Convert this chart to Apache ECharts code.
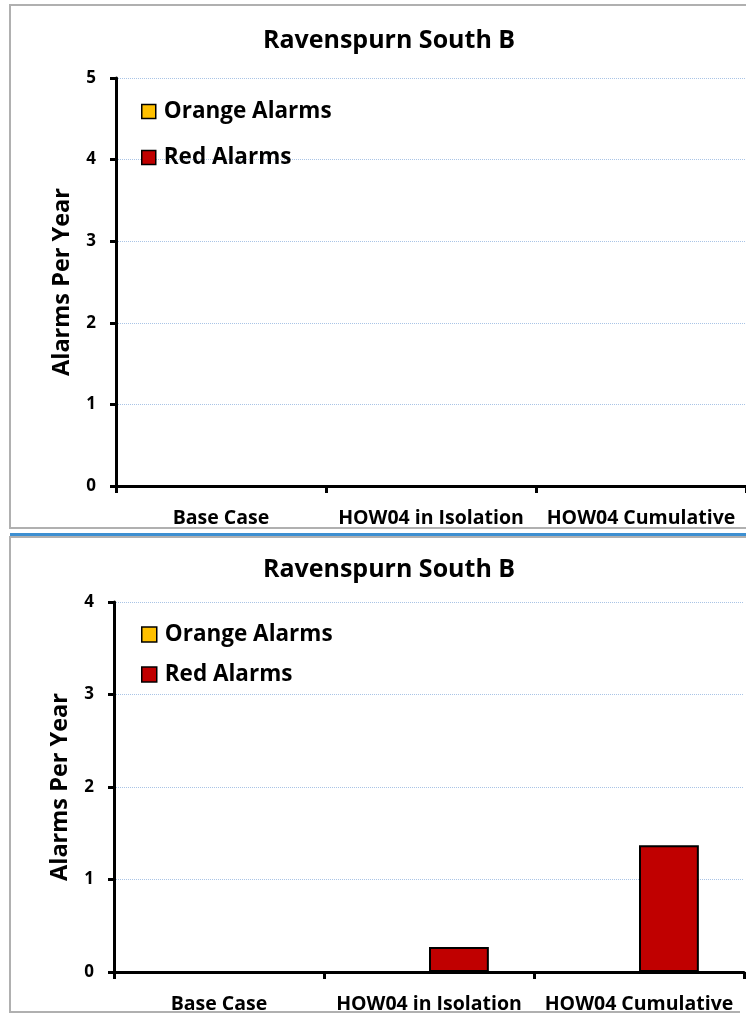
<!DOCTYPE html>
<html><head><meta charset="utf-8">
<script src="https://cdn.jsdelivr.net/npm/echarts@6/dist/echarts.min.js"></script>
<style>html,body{margin:0;padding:0;background:#fff}#c{width:746px;height:1014px}</style>
</head><body><div id="c"></div>
<script>
const categories = ['Base Case', 'HOW04 in Isolation', 'HOW04 Cumulative'];
const titleText = 'Ravenspurn South B';
const seriesNames = ['Orange Alarms', 'Red Alarms'];
const topOrange = [0, 0, 0];
const topRed = [0, 0, 0];
const bottomOrange = [0, 0, 0];
const bottomRed = [0, 0.27, 1.37];
const topMax = 5;
const bottomMax = 4;

const FONT = '"Open Sans"';
const colors = ['#FFC000', '#C00000'];

function xAxis(gi) {
  return {
    type: 'category', gridIndex: gi, data: categories,
    axisLine: {lineStyle: {color: '#000', width: 3}},
    axisTick: {show: true, length: 7, lineStyle: {color: '#000', width: 3}},
    axisLabel: {margin: 22, fontFamily: FONT, fontWeight: 'bold', fontSize: 19.5, color: '#000', interval: 0},
    splitLine: {show: false}
  };
}
function yAxis(gi, max) {
  return {
    type: 'value', gridIndex: gi, min: 0, max: max, interval: 1,
    name: 'Alarms Per Year', nameLocation: 'middle', nameGap: 42, nameRotate: 90,
    nameTextStyle: {fontFamily: FONT, fontWeight: 'bold', fontSize: 23.5, color: '#000'},
    axisLine: {show: true, lineStyle: {color: '#000', width: 3}},
    axisTick: {show: true, length: 6, lineStyle: {color: '#000', width: 3}},
    axisLabel: {margin: 20, fontFamily: FONT, fontWeight: 'bold', fontSize: 17, color: '#000'},
    splitLine: {show: true, lineStyle: {color: '#a9c4e6', width: 1, type: 'dotted'}}
  };
}
function bar(name, data, gi, ci) {
  return {
    name: name, type: 'bar', xAxisIndex: gi, yAxisIndex: gi, data: data,
    barGap: '0%', barCategoryGap: '43%',
    itemStyle: {color: colors[ci], borderColor: '#000', borderWidth: 2}
  };
}
function legend(top, gap, sz) {
  return {
    orient: 'vertical', left: 136, top: top, itemGap: gap, itemWidth: sz, itemHeight: sz,
    icon: 'rect', data: seriesNames, selectedMode: false,
    itemStyle: {borderColor: '#000', borderWidth: 1.5},
    textStyle: {fontFamily: FONT, fontWeight: 'bold', fontSize: 22.5, color: '#000', padding: [0, 0, 0, 3]}
  };
}

const chart = echarts.init(document.getElementById('c'), null, {renderer: 'canvas'});
chart.setOption({
  animation: false,
  backgroundColor: '#fff',
  title: [
    {text: titleText, left: 384, top: 23, textAlign: 'center',
     textStyle: {fontFamily: FONT, fontWeight: 'bold', fontSize: 25, color: '#000'}},
    {text: titleText, left: 384, top: 552, textAlign: 'center',
     textStyle: {fontFamily: FONT, fontWeight: 'bold', fontSize: 25, color: '#000'}}
  ],
  legend: [legend(95, 23, 14), legend(618, 17, 15)],
  grid: [
    {left: 116, top: 78, width: 630, height: 408},
    {left: 114, top: 602, width: 630, height: 371}
  ],
  xAxis: [xAxis(0), xAxis(1)],
  yAxis: [yAxis(0, topMax), yAxis(1, bottomMax)],
  series: [
    bar(seriesNames[0], topOrange, 0, 0),
    bar(seriesNames[1], topRed, 0, 1),
    bar(seriesNames[0], bottomOrange, 1, 0),
    bar(seriesNames[1], bottomRed, 1, 1)
  ],
  graphic: [
    {type: 'polyline', silent: true, z: -1, shape: {points: [[746, 5], [10, 5], [10, 528], [746, 528]]},
     style: {stroke: '#b0b0b0', lineWidth: 2, fill: null}},
    {type: 'line', silent: true, shape: {x1: 10, y1: 534.5, x2: 746, y2: 534.5},
     style: {stroke: '#3d8fd1', lineWidth: 3}},
    {type: 'polyline', silent: true, z: -1, shape: {points: [[746, 537], [10, 537], [10, 1012], [740, 1012]]},
     style: {stroke: '#b0b0b0', lineWidth: 2, fill: null}}
  ]
});
</script></body></html>
